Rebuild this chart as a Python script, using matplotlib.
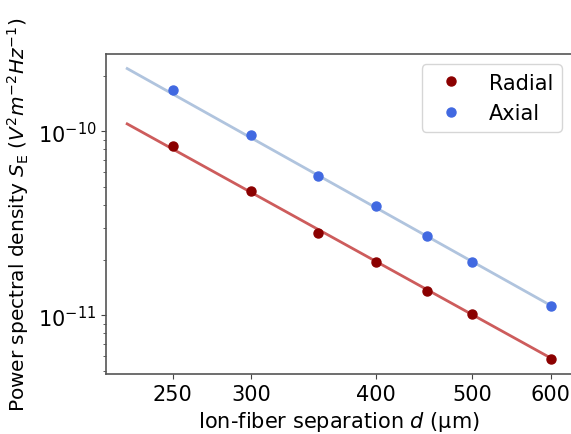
import matplotlib
matplotlib.use("Agg")
from matplotlib import pyplot as plt
from matplotlib.ticker import NullFormatter, NullLocator
import numpy as np

# separations (um)
d = [250, 300, 350, 400, 450, 500, 600]
radial = [8.35e-11, 4.74e-11, 2.81e-11, 1.96e-11, 1.36e-11, 1.01e-11, 5.75e-12]
axial = [1.68e-10, 9.55e-11, 5.73e-11, 3.94e-11, 2.70e-11, 1.96e-11, 1.12e-11]

# fitted power-law lines (end points)
fit_d = [225, 600]
radial_fit = [1.10e-10, 5.85e-12]
axial_fit = [2.20e-10, 1.13e-11]

xticks = [250, 300, 400, 500, 600]

fig = plt.figure(figsize=(5.71, 4.35), dpi=100)
ax = fig.add_axes([106/571, 1 - 375/435, 466/571, 320/435])

ax.plot(fit_d, radial_fit, color='#cd5c5c', lw=2)
ax.plot(fit_d, axial_fit, color='#b0c4de', lw=2)
ax.plot(d, radial, 'o', color='#8b0000', ms=6.5, label='Radial')
ax.plot(d, axial, 'o', color='#4169e1', ms=6.5, label='Axial')

ax.set_xscale('log')
ax.set_yscale('log')
ax.set_xticks(xticks)
ax.set_xticklabels([str(x) for x in xticks])
ax.xaxis.set_minor_locator(NullLocator())
ax.xaxis.set_minor_formatter(NullFormatter())

for s in ax.spines.values():
    s.set_color('#555555')
    s.set_linewidth(1.2)
ax.tick_params(which='both', colors='#444444', labelcolor='black')
ax.tick_params(which='major', labelsize=15)

ax.set_xlabel(r'Ion-fiber separation $d$ (μm)', fontsize=15)
ax.set_ylabel(r'Power spectral density $S_\mathrm{E}$ ($V^2m^{-2}Hz^{-1}$)', fontsize=14.5, labelpad=5)
ax.legend(loc='upper right', fontsize=15)

fig.savefig('out.png', dpi=100)
